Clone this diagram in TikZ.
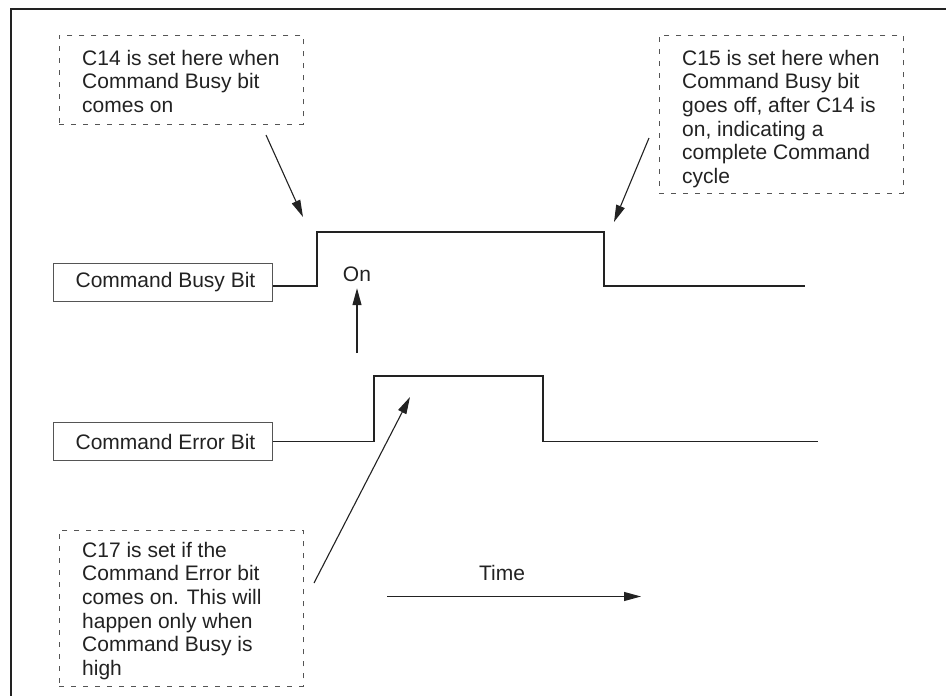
\documentclass[tikz,border=0pt]{standalone}
\usepackage{fontspec}
\setmainfont{Liberation Sans}
\usetikzlibrary{arrows.meta}
\definecolor{ink}{HTML}{222222}
\definecolor{dashgray}{HTML}{555555}
\tikzset{
  frameline/.style={line width=2.2pt, draw=ink},
  notebox/.style={draw=dashgray, line width=0.9pt, dash pattern=on 5pt off 7pt, anchor=north west, inner sep=0pt},
  notetext/.style={anchor=north west, inner sep=0pt, align=left, text=ink, font=\fontsize{21pt}{23.6pt}\selectfont},
  bitbox/.style={draw=dashgray, line width=1pt, minimum width=219pt, minimum height=38pt, inner sep=0pt, text=ink, font=\fontsize{21pt}{23.6pt}\selectfont},
  wave/.style={draw=ink, line width=1.3pt},
  pointer/.style={draw=ink, line width=1.1pt, -{Triangle[length=17pt,width=9pt]}},
  plainlabel/.style={inner sep=0pt, text=ink, font=\fontsize{21pt}{23.6pt}\selectfont}
}
\begin{document}
\begin{tikzpicture}[x=1pt,y=-1pt]
\useasboundingbox (0,0) rectangle (946,696);
% frame (cropped: top and left edges only)
\coordinate (fbl) at (11,696);
\coordinate (ftl) at (11,9);
\coordinate (ftr) at (946,9);
\draw[frameline] (fbl) -- (ftl) -- (ftr);

% dashed note boxes
\node[notebox, minimum width=244pt, minimum height=89pt] (box1) at (59,35) {};
\node[notetext] (t1) at (82,49.8) {C14 is set here when\\Command Busy bit\\comes on};

\node[notebox, minimum width=244pt, minimum height=158pt] (box2) at (659,35) {};
\node[notetext] (t2) at (682,49.8) {C15 is set here when\\Command Busy bit\\goes off, after C14 is\\on, indicating a\\complete Command\\cycle};

\node[notebox, minimum width=244pt, minimum height=156pt] (box3) at (59,530) {};
\node[notetext] (t3) at (82,541.8) {C17 is set if the\\Command Error bit\\comes on. This will\\happen only when\\Command Busy is\\high};

% signal label boxes
\node[bitbox] (busy) at (162.5,282) {\hspace{6pt}Command Busy Bit};
\node[bitbox] (err) at (162.5,441.5) {\hspace{6pt}Command Error Bit};

% waveforms
\coordinate (b1) at (317,286);
\coordinate (b2) at (317,232);
\coordinate (b3) at (604,232);
\coordinate (b4) at (604,286);
\coordinate (b5) at (805,286);
\draw[wave] ([yshift=-4pt]busy.east) -- (b1) -- (b2) -- (b3) -- (b4) -- (b5);

\coordinate (e1) at (374,441.5);
\coordinate (e2) at (374,376);
\coordinate (e3) at (543,376);
\coordinate (e4) at (543,441.5);
\coordinate (e5) at (818,441.5);
\draw[wave] (err.east) -- (e1) -- (e2) -- (e3) -- (e4) -- (e5);

% "On" label and arrow
\node[plainlabel, anchor=base, outer ysep=7pt] (on) at (357,281) {On};
\coordinate (onfrom) at (357,353);
\draw[pointer] (onfrom) -- (on.south);

% pointers from notes
\coordinate (p1from) at (266,135);
\coordinate (p1to) at (303,217);
\draw[pointer] (p1from) -- (p1to);

\coordinate (p2from) at (649,138);
\coordinate (p2to) at (614,222);
\draw[pointer] (p2from) -- (p2to);

\coordinate (p3from) at (314,583);
\coordinate (p3to) at (410,397);
\draw[pointer] (p3from) -- (p3to);

% time axis
\node[plainlabel] (time) at (502,573) {Time};
\coordinate (tfrom) at (387,596.5);
\coordinate (tto) at (641,596.5);
\draw[pointer] (tfrom) -- (tto);
\end{tikzpicture}
\end{document}
